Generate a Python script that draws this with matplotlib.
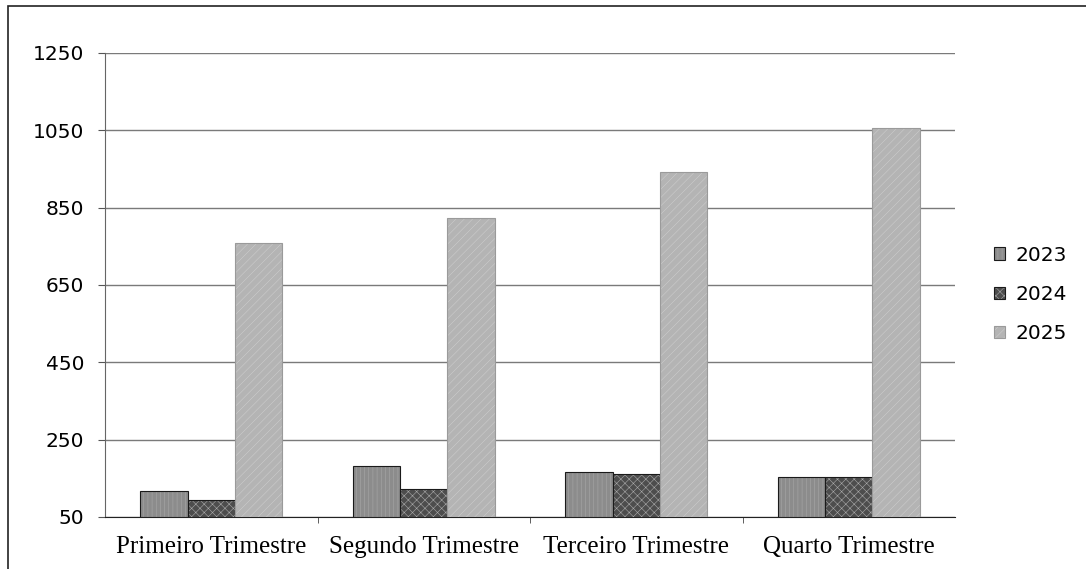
import matplotlib
matplotlib.use("Agg")
import matplotlib.pyplot as plt
from matplotlib.patches import Rectangle
import numpy as np

categories = ["Primeiro Trimestre", "Segundo Trimestre", "Terceiro Trimestre", "Quarto Trimestre"]
series_names = ["2023", "2024", "2025"]
values_2023 = [118, 182, 166, 153]
values_2024 = [93, 123, 160, 153]
values_2025 = [758, 824, 943, 1055]
y_ticks = [50, 250, 450, 650, 850, 1050, 1250]

colors = ["#8c8c8c", "#4d4d4d", "#b4b4b4"]
hatches = ["||||", "xxxx", "////"]

plt.rcParams["hatch.linewidth"] = 0.4

fig = plt.figure(figsize=(10.86, 5.69), dpi=100)
ax = fig.add_axes([105 / 1086, 1 - 517 / 569, 850 / 1086, 464 / 569])

# outer chart frame
fig.patches.append(Rectangle((8 / 1086, -0.01), 1.1, 1 - 6 / 569 + 0.01,
                             transform=fig.transFigure, fill=False,
                             edgecolor="#222222", linewidth=1.2))

x = np.arange(len(categories))
w = 0.222
all_vals = [values_2023, values_2024, values_2025]
for i, (vals, name) in enumerate(zip(all_vals, series_names)):
    bars = ax.bar(x + (i - 1) * w, np.array(vals) - 50, w, bottom=50, color=colors[i],
                  edgecolor="#1a1a1a" if i < 2 else "#9a9a9a", linewidth=0.8,
                  hatch=hatches[i], label=name, zorder=3)
    for b in bars:
        b._hatch_color = matplotlib.colors.to_rgba("#a8a8a8" if i < 2 else "#cccccc")

ax.set_xlim(-0.5, len(categories) - 0.5)
ax.set_ylim(50, 1250)
ax.set_yticks(y_ticks)
ax.set_yticklabels([str(v) for v in y_ticks], fontsize=14.5, family="DejaVu Sans")
ax.yaxis.grid(True, color="#7a7a7a", linewidth=1.0, zorder=0)
ax.set_axisbelow(True)

ax.set_xticks(x)
ax.set_xticklabels(categories, fontsize=18, family="Liberation Serif")
ax.tick_params(axis="x", length=0, pad=14)
ax.set_xticks(np.arange(0.5, len(categories) - 0.5, 1), minor=True)
ax.tick_params(axis="x", which="minor", length=4, color="#444444")
ax.tick_params(axis="y", length=5, color="#555555", pad=10)

for s in ["top", "right"]:
    ax.spines[s].set_visible(False)
ax.spines["left"].set_color("#666666")
ax.spines["bottom"].set_color("#222222")

leg = ax.legend(loc="center left", bbox_to_anchor=(1.025, 0.48), frameon=False,
                fontsize=14.5, handlelength=0.55, handleheight=0.55,
                handletextpad=0.5, labelspacing=1.0)

fig.savefig("out.png", dpi=100)
